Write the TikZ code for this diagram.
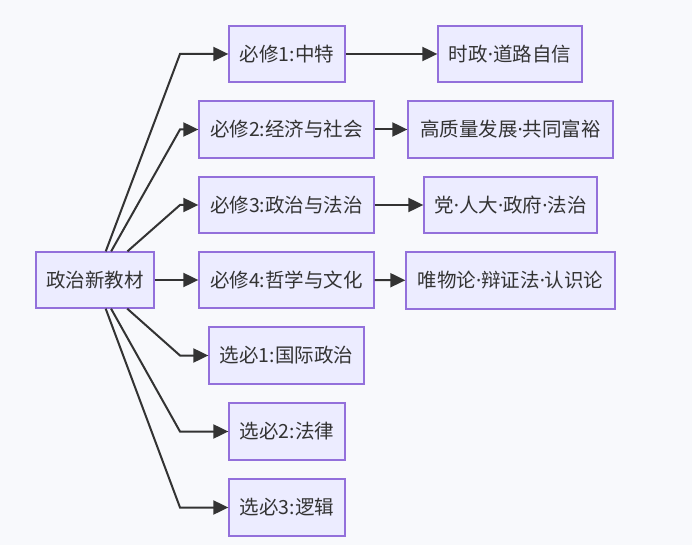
\documentclass[tikz,border=0pt]{standalone}
\usepackage{fontspec}
\setmainfont{Noto Sans CJK SC}
\newfontfamily\latinf{Noto Sans}
\newcommand{\mdot}{{\latinf ·}}
\usetikzlibrary{arrows.meta}
\definecolor{bg}{RGB}{248,249,252}
\definecolor{boxfill}{RGB}{236,236,255}
\definecolor{boxline}{RGB}{147,112,219}
\definecolor{ink}{RGB}{51,51,51}
\tikzset{
  box/.style={draw=boxline, fill=boxfill, line width=1.3bp, inner sep=0pt,
    text=ink, font=\fontsize{19.5bp}{23bp}\selectfont},
  edge/.style={draw=ink, line width=2bp,
    -{Triangle[length=15bp,width=14bp]}},
}
\begin{document}
\begin{tikzpicture}[x=1bp,y=-1bp]
\fill[bg] (0,0) rectangle (692,545);
\useasboundingbox (0,0) rectangle (692,545);
\node[box, minimum width=118bp, minimum height=56bp] (root) at (95,280) {政治新教材};
\node[box, minimum width=116bp, minimum height=56bp] (b1) at (287,54) {必修1:中特};
\node[box, minimum width=175bp, minimum height=57bp] (b2) at (286.5,129.5) {必修2:经济与社会};
\node[box, minimum width=175bp, minimum height=56bp] (b3) at (286.5,205) {必修3:政治与法治};
\node[box, minimum width=175bp, minimum height=56bp] (b4) at (286.5,280) {必修4:哲学与文化};
\node[box, minimum width=155bp, minimum height=57bp] (x1) at (286.5,355.5) {选必1:国际政治};
\node[box, minimum width=116bp, minimum height=57bp] (x2) at (287,431.5) {选必2:法律};
\node[box, minimum width=116bp, minimum height=57bp] (x3) at (287,507.5) {选必3:逻辑};
\node[box, minimum width=144bp, minimum height=56bp] (c1) at (510,54) {时政\mdot 道路自信};
\node[box, minimum width=205bp, minimum height=57bp] (c2) at (510.5,129.5) {高质量发展\mdot 共同富裕};
\node[box, minimum width=173bp, minimum height=56bp] (c3) at (510.5,205) {党\mdot 人大\mdot 政府\mdot 法治};
\node[box, minimum width=209bp, minimum height=57bp] (c4) at (510.5,280.5) {唯物论\mdot 辩证法\mdot 认识论};
\coordinate (k1) at (180,54);
\coordinate (k2) at (180,129.5);
\coordinate (k3) at (180,205);
\coordinate (k5) at (180,355.5);
\coordinate (k6) at (180,431.5);
\coordinate (k7) at (180,507.5);
\draw[edge] (root) -- (k1) -- (b1);
\draw[edge] (root) -- (k2) -- (b2);
\draw[edge] (root) -- (k3) -- (b3);
\draw[edge] (root) -- (b4);
\draw[edge] (root) -- (k5) -- (x1);
\draw[edge] (root) -- (k6) -- (x2);
\draw[edge] (root) -- (k7) -- (x3);
\draw[edge] (b1) -- (c1);
\draw[edge] (b2) -- (c2);
\draw[edge] (b3) -- (c3);
\draw[edge] (b4) -- (c4);
\end{tikzpicture}
\end{document}
